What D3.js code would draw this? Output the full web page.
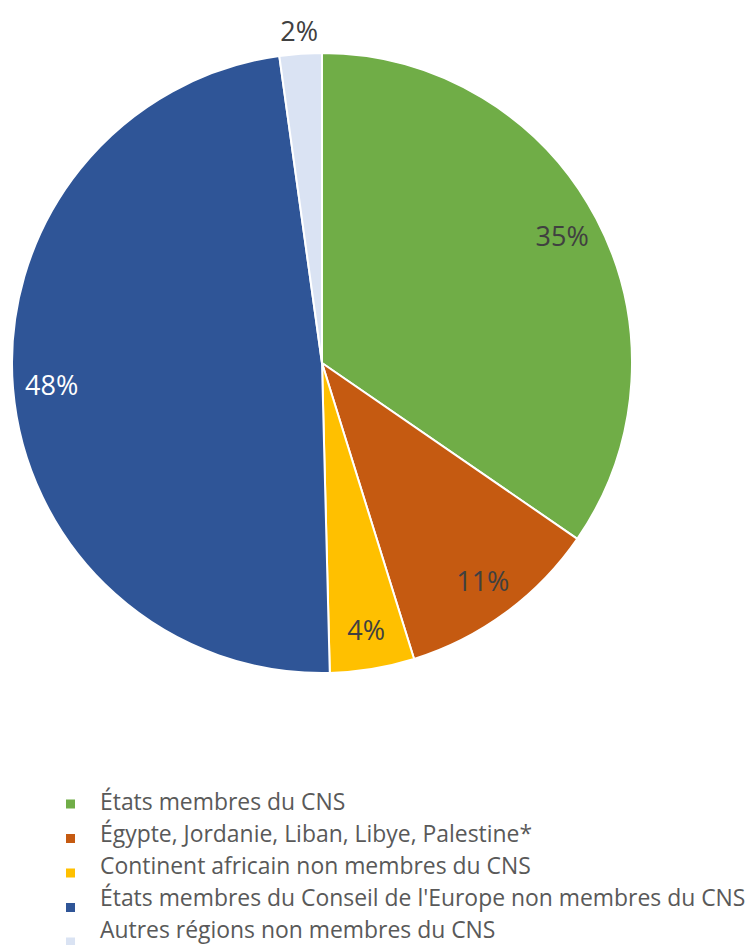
<!DOCTYPE html>
<html>
<head>
<meta charset="utf-8">
<script src="https://cdn.jsdelivr.net/npm/d3@7"></script>
<style>
  html, body { margin: 0; padding: 0; background: #ffffff; }
  svg { display: block; }
</style>
</head>
<body>
<svg id="chart" width="753" height="945"></svg>
<script>
const categories = [
  "États membres du CNS",
  "Égypte, Jordanie, Liban, Libye, Palestine*",
  "Continent africain non membres du CNS",
  "États membres du Conseil de l'Europe non membres du CNS",
  "Autres régions non membres du CNS"
];
const values = [34.6, 10.6, 4.4, 48.2, 2.2];
const colors = ["#70AD47", "#C55A11", "#FFC000", "#2F5597", "#DAE3F3"];
const labelColors = ["#404040", "#404040", "#404040", "#ffffff", "#404040"];
const labelOutside = [false, false, false, false, true];

const FONT = "'Open Sans', 'Noto Sans', sans-serif";
const svg = d3.select("#chart");

const cx = 322, cy = 363, R = 310;

const pie = d3.pie().sort(null).value(d => d)(values);
const arc = d3.arc().innerRadius(0).outerRadius(R);

const g = svg.append("g").attr("transform", `translate(${cx},${cy})`);

g.selectAll("path.slice")
  .data(pie)
  .join("path")
  .attr("class", "slice")
  .attr("d", arc)
  .attr("fill", (d, i) => colors[i])
  .attr("stroke", "#ffffff")
  .attr("stroke-width", 2)
  .attr("stroke-linejoin", "round");

const inArc = d3.arc().innerRadius(R * 0.875).outerRadius(R * 0.875);
const outArc = d3.arc().innerRadius(R + 22).outerRadius(R + 22);

g.selectAll("text.lbl")
  .data(pie)
  .join("text")
  .attr("class", "lbl")
  .attr("transform", (d, i) => {
    const [x, y] = (labelOutside[i] ? outArc : inArc).centroid(d);
    return `translate(${x},${y})`;
  })
  .attr("text-anchor", "middle")
  .attr("dy", "0.35em")
  .style("font-family", FONT)
  .style("font-size", "27px")
  .attr("fill", (d, i) => labelColors[i])
  .text(d => Math.round(d.value) + "%");

// Legend
const legX = 66, textX = 100, legY0 = 804, legStep = 34.5;
const lg = svg.append("g");
const items = lg.selectAll("g.item")
  .data(categories)
  .join("g")
  .attr("class", "item");

items.append("rect")
  .attr("x", legX)
  .attr("y", (d, i) => legY0 + i * legStep - 4.5)
  .attr("width", 9)
  .attr("height", 9)
  .attr("fill", (d, i) => colors[i]);

const texts = items.append("text")
  .attr("x", textX)
  .attr("y", (d, i) => 810 + i * 32)
  .style("font-family", FONT)
  .style("font-size", "22px")
  .attr("fill", "#595959")
  .text(d => d);

// fit the longest legend line to the reference width (x 100 -> 748)
let maxW = 0;
texts.each(function() { maxW = Math.max(maxW, this.getComputedTextLength()); });
const fs = 22 * 646 / maxW;
texts.style("font-size", fs + "px");
</script>
</body>
</html>
